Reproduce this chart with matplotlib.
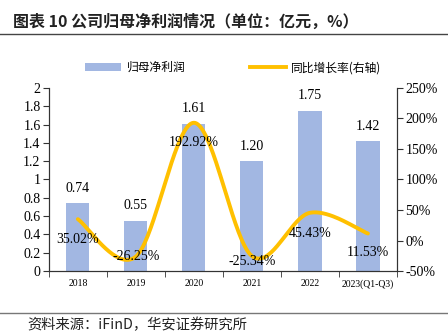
import numpy as np
import matplotlib.pyplot as plt
from matplotlib.lines import Line2D
from matplotlib.patches import Patch

plt.rcParams['font.family'] = ['Noto Sans CJK SC', 'DejaVu Sans']

years = ['2018', '2019', '2020', '2021', '2022', '2023(Q1-Q3)']
profit = [0.74, 0.55, 1.61, 1.20, 1.75, 1.42]
growth = [35.02, -26.25, 192.92, -25.34, 45.43, 11.53]
# vertical offset (points) of the growth labels below the line
growth_dy = [-15, 0, -14, -4, -15, -14]

bar_color = '#A2B7E2'
line_color = '#FFC000'
serif = 'Liberation Serif'


def smooth(xs, ys, n=40):
    # Catmull-Rom curve through the points, like spreadsheet "smoothed line"
    p = np.column_stack([xs, ys]).astype(float)
    p = np.vstack([p[0], p, p[-1]])
    out = []
    for i in range(1, len(p) - 2):
        p0, p1, p2, p3 = p[i - 1], p[i], p[i + 1], p[i + 2]
        c1 = p1 + (p2 - p0) / 6
        c2 = p2 - (p3 - p1) / 6
        t = np.linspace(0, 1, n)[:, None]
        seg = ((1 - t) ** 3) * p1 + 3 * ((1 - t) ** 2) * t * c1 \
            + 3 * (1 - t) * t ** 2 * c2 + t ** 3 * p2
        out.append(seg)
    out = np.vstack(out)
    return out[:, 0], out[:, 1]


fig = plt.figure(figsize=(4.48, 3.33), dpi=100)
ax = fig.add_axes([0.109, 0.186, 0.777, 0.550])
ax2 = ax.twinx()

x = np.arange(len(years))
ax.bar(x, profit, width=0.4, color=bar_color, zorder=2)
for xi, v in zip(x, profit):
    ax.annotate(f'{v:.2f}', (xi, v), xytext=(0, 6), textcoords='offset points',
                ha='center', va='bottom', fontsize=10, family=serif)

ax.set_xlim(-0.5, len(years) - 0.5)
ax.set_ylim(0, 2)
ax.set_yticks(np.arange(0, 2.01, 0.2))
ax.set_yticklabels(['0', '0.2', '0.4', '0.6', '0.8', '1', '1.2', '1.4', '1.6', '1.8', '2'],
                   family=serif, fontsize=10)
ax.set_xticks(x)
ax.set_xticklabels(years, family=serif, fontsize=7)
ax.set_xticks(np.arange(-0.5, len(years), 1), minor=True)
ax.tick_params(axis='x', which='major', length=0, pad=6)
ax.tick_params(axis='x', which='minor', length=4, direction='out', color='#333333')
ax.tick_params(axis='y', length=4, direction='out', color='#333333', pad=2)

sx, sy = smooth(x, growth)
ax2.plot(sx, sy, color=line_color, lw=2.8, solid_capstyle='round', zorder=3)
ax2.set_ylim(-50, 250)
ax2.set_yticks(np.arange(-50, 251, 50))
ax2.set_yticklabels([f'{v}%' for v in range(-50, 251, 50)], family=serif, fontsize=10)
ax2.tick_params(axis='y', length=4, direction='out', color='#333333', pad=2)
for xi, v, dy in zip(x, growth, growth_dy):
    ax2.annotate(f'{v:.2f}%', (xi, v), xytext=(0, dy), textcoords='offset points',
                 ha='center', va='center', fontsize=10, family=serif, zorder=4)

for a in (ax, ax2):
    a.spines['top'].set_visible(False)
    for s in ('left', 'right', 'bottom'):
        a.spines[s].set_color('#333333')
        a.spines[s].set_linewidth(0.8)

handles = [Patch(facecolor=bar_color), Line2D([0], [0], color=line_color, lw=2.8)]
fig.legend(handles, ['归母净利润', '同比增长率(右轴)'], loc='center', ncol=2,
           bbox_to_anchor=(0.521, 0.797), frameon=False, fontsize=8.5,
           handlelength=3.0, handleheight=0.7, columnspacing=5.5, handletextpad=0.5)

fig.text(0.029, 0.934, '图表 10 公司归母净利润情况（单位：亿元，%）', fontsize=11.5,
         fontweight='bold', va='center', ha='left', color='#222222')
fig.add_artist(Line2D([0, 1], [0.898, 0.898], color='#444444', lw=1))
fig.add_artist(Line2D([0, 1], [0.060, 0.060], color='#777777', lw=1))
fig.text(0.06, 0.024, '资料来源：iFinD，华安证券研究所', fontsize=10.3, va='center', ha='left',
         color='#222222')

fig.savefig('out.png', dpi=100)
